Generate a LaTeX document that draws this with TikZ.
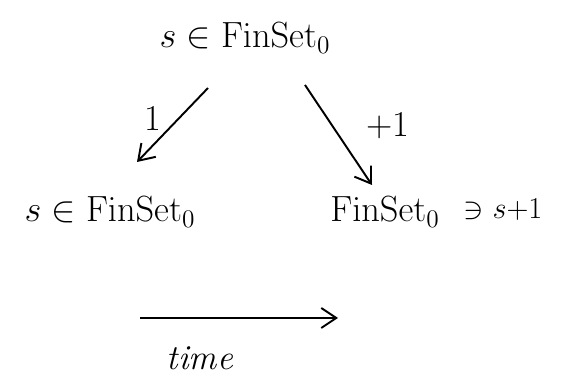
\documentclass[tikz,border=0pt]{standalone}
\usetikzlibrary{arrows.meta}

\tikzset{
  obj/.style={inner sep=2pt, font=\fontsize{20}{24}\selectfont},
  lbl/.style={inner sep=1pt, font=\fontsize{20}{24}\selectfont},
  map/.style={line width=1.1pt, -{Straight Barb[length=3mm, width=4mm]}}
}

\begin{document}
\begin{tikzpicture}
\useasboundingbox (0,0) rectangle (11.48,7.62);
% objects
\node[obj] (s) at (4.9,6.86) {$s\in\mathrm{FinSet}_0$};
\node[obj] (l) at (2.2,3.38) {$s\in\mathrm{FinSet}_0$};
\node[obj] (r) at (7.7,3.38) {$\mathrm{FinSet}_0$};
\node[obj, font=\fontsize{16}{20}\selectfont, anchor=west] (e) at (9.2,3.42) {$\ni s{+}1$};
% the two maps
\draw[map] ([shift={(-0.74,-1.0)}]s.center) -- ([shift={(0.54,1.0)}]l.center);
\draw[map] ([shift={(1.2,-0.94)}]s.center) -- ([shift={(-0.26,0.54)}]r.center);
\node[lbl] (one) at (3.05,5.25) {$1$};
\node[lbl] (plusone) at (7.75,5.1) {$+1$};
% time axis
\coordinate (t0) at (2.8,1.26);
\coordinate (t1) at (6.76,1.26);
\draw[map] (t0) -- (t1);
\node[lbl] (time) at (4.0,0.45) {\textit{time}};
\end{tikzpicture}
\end{document}
